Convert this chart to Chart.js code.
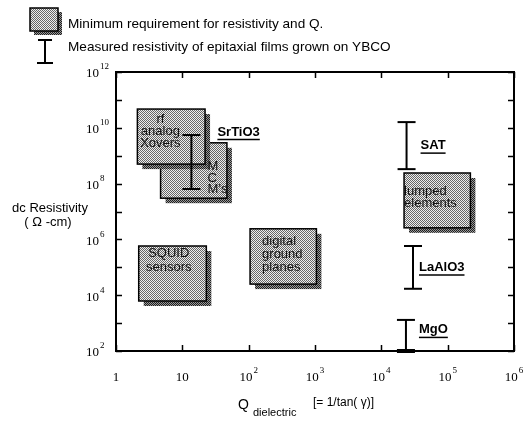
<!DOCTYPE html>
<html>
<head>
<meta charset="utf-8">
<script src="https://cdn.jsdelivr.net/npm/chart.js@4.4.1/dist/chart.umd.min.js"></script>
<style>
  html, body { margin: 0; padding: 0; background: #fff; }
  canvas { display: block; }
</style>
</head>
<body>
<canvas id="chart" width="527" height="421"></canvas>
<script>
// --- datos ---

// cajas: requerimiento minimo (Q y resistividad)
const boxLabels = [["M", "C", "M's"], ["rf", "analog", "Xovers"], ["SQUID", "sensors"], ["digital", "ground", "planes"], ["lumped", "elements"]];
const boxQMin = [4.7, 2.1, 2.2, 105, 2.2e4];
const boxQMax = [47, 22, 23, 1050, 2.2e5];
const boxRhoMin = [3.0e7, 5.0e8, 6.2e3, 2.5e4, 2.6e6];
const boxRhoMax = [2.9e9, 4.7e10, 5.8e5, 2.4e6, 2.4e8];

// barras: resistividad medida en peliculas sobre YBCO
const barLabels = ['SrTiO3', 'SAT', 'LaAlO3', 'MgO'];
const barQ = [13.7, 2.4e4, 3.0e4, 2.35e4];
const barRhoLow = [6.4e7, 3.3e8, 1.7e4, 1e2];
const barRhoHigh = [5.5e9, 1.6e10, 5.8e5, 1.3e3];

// ejes
const xTickValues = [1, 10, 1e2, 1e3, 1e4, 1e5, 1e6];
const xTickLabels = ['1', '10', '10^2', '10^3', '10^4', '10^5', '10^6'];
const yTickValues = [1e2, 1e3, 1e4, 1e5, 1e6, 1e7, 1e8, 1e9, 1e10, 1e11, 1e12];
const yTickLabels = ['10^2', '', '10^4', '', '10^6', '', '10^8', '', '10^10', '', '10^12'];

// --- estilo / posicion de textos (pixeles) ---
const boxTextLayout = [
    { align: 'left', dx: 47, dy: 24, lh: 11.5 },
    { align: 'center', dx: 23, dy: 10, lh: 12 },
    { align: 'center', dx: 30, dy: 7, lh: 14 },
    { align: 'left', dx: 12, dy: 13, lh: 13 },
    { align: 'left', dx: 0, dy: 18, lh: 12.5 }
];
const barTextLayout = [
    { dx: 26, dy: -3, from: 'top' },
    { dx: 14, dy: 0, from: 'mid' },
    { dx: 6, dy: 0, from: 'mid' },
    { dx: 13, dy: 10, from: 'top' }
];

const SANS = '"Liberation Sans", Arial, sans-serif';
const SERIF = '"Liberation Serif", "Times New Roman", serif';

function makeStipple(ctx, dark, light) {
    const c = document.createElement('canvas');
    c.width = c.height = 2;
    const g = c.getContext('2d');
    g.fillStyle = light;
    g.fillRect(0, 0, 2, 2);
    g.fillStyle = dark;
    g.fillRect(0, 0, 1, 1);
    g.fillRect(1, 1, 1, 1);
    return ctx.createPattern(c, 'repeat');
}

function drawShadedBox(ctx, l, t, w, h, off) {
    ctx.fillStyle = makeStipple(ctx, '#1e1e1e', '#9a9a9a');
    ctx.fillRect(l + off, t + off, w, h);
    ctx.fillStyle = makeStipple(ctx, '#666', '#eee');
    ctx.fillRect(l, t, w, h);
    ctx.strokeStyle = '#000';
    ctx.lineWidth = 1.5;
    ctx.strokeRect(l, t, w, h);
}

// "10^4" -> 10 con exponente
function drawPow(ctx, label, x, y, align) {
    const [base, sup] = label.split('^');
    ctx.font = '13px ' + SERIF;
    const wb = ctx.measureText(base).width;
    ctx.font = '9px ' + SERIF;
    const ws = sup ? ctx.measureText(sup).width + 1 : 0;
    const start = align === 'center' ? x - (wb + ws) / 2 : x;
    ctx.textAlign = 'left';
    ctx.textBaseline = 'middle';
    ctx.fillStyle = '#000';
    ctx.font = '13px ' + SERIF;
    ctx.fillText(base, start, y);
    if (sup) {
        ctx.font = '9px ' + SERIF;
        ctx.fillText(sup, start + wb + 1, y - 7);
    }
}

const figurePlugin = {
    id: 'figure',
    beforeDatasetsDraw(chart) {
        const ctx = chart.ctx;
        const xs = chart.scales.x, ys = chart.scales.y;
        const rects = boxLabels.map((_, i) => {
            const l = xs.getPixelForValue(boxQMin[i]);
            const r = xs.getPixelForValue(boxQMax[i]);
            const t = ys.getPixelForValue(boxRhoMax[i]);
            const b = ys.getPixelForValue(boxRhoMin[i]);
            return { l, t, w: r - l, h: b - t };
        });
        ctx.save();
        rects.forEach(r => drawShadedBox(ctx, r.l, r.t, r.w, r.h, 5));
        ctx.font = '13px ' + SANS;
        ctx.fillStyle = '#111';
        ctx.textBaseline = 'middle';
        rects.forEach((r, i) => {
            const lay = boxTextLayout[i];
            ctx.textAlign = lay.align;
            boxLabels[i].forEach((line, k) => {
                ctx.fillText(line, r.l + lay.dx, r.t + lay.dy + k * lay.lh);
            });
        });
        ctx.restore();
    },
    afterDatasetsDraw(chart) {
        const ctx = chart.ctx;
        const xs = chart.scales.x, ys = chart.scales.y;
        const { left, right, top, bottom } = chart.chartArea;
        ctx.save();

        // marco y marcas hacia dentro
        ctx.strokeStyle = '#000';
        ctx.lineWidth = 2;
        ctx.strokeRect(left, top, right - left, bottom - top);
        ctx.lineWidth = 1.5;
        ctx.beginPath();
        yTickValues.forEach(v => {
            const py = Math.round(ys.getPixelForValue(v)) + 0.5;
            ctx.moveTo(left, py); ctx.lineTo(left + 6, py);
            ctx.moveTo(right, py); ctx.lineTo(right - 6, py);
        });
        xTickValues.forEach(v => {
            const px = Math.round(xs.getPixelForValue(v)) + 0.5;
            ctx.moveTo(px, bottom); ctx.lineTo(px, bottom - 6);
            ctx.moveTo(px, top); ctx.lineTo(px, top + 6);
        });
        ctx.stroke();

        // etiquetas de los ejes
        yTickValues.forEach((v, i) => {
            if (yTickLabels[i]) drawPow(ctx, yTickLabels[i], 86, ys.getPixelForValue(v) + 2, 'left');
        });
        xTickValues.forEach((v, i) => {
            drawPow(ctx, xTickLabels[i], xs.getPixelForValue(v), 378, 'center');
        });

        // nombres de los sustratos, en negrita y subrayados
        ctx.font = 'bold 13px ' + SANS;
        ctx.textAlign = 'left';
        ctx.textBaseline = 'middle';
        ctx.fillStyle = '#000';
        barLabels.forEach((name, i) => {
            const lay = barTextLayout[i];
            const px = xs.getPixelForValue(barQ[i]);
            const pTop = ys.getPixelForValue(barRhoHigh[i]);
            const pBot = ys.getPixelForValue(barRhoLow[i]);
            const py = (lay.from === 'top' ? pTop : (pTop + pBot) / 2) + lay.dy;
            const tx = px + lay.dx;
            ctx.fillText(name, tx, py);
            const w = ctx.measureText(name).width;
            ctx.lineWidth = 1.5;
            ctx.beginPath();
            ctx.moveTo(tx, py + 7.5);
            ctx.lineTo(tx + w, py + 7.5);
            ctx.stroke();
        });

        // titulos
        ctx.font = '13px ' + SANS;
        ctx.textAlign = 'center';
        ctx.fillText('dc Resistivity', 50, 208);
        ctx.fillText('( \u03A9 -cm)', 48, 222);
        ctx.textAlign = 'left';
        ctx.font = '14px ' + SANS;
        ctx.fillText('Q', 238, 405);
        ctx.font = '11px ' + SANS;
        ctx.fillText('dielectric', 253, 413);
        ctx.font = '12px ' + SANS;
        ctx.fillText('[= 1/tan( \u03B3)]', 313, 403);

        // leyenda
        drawShadedBox(ctx, 30, 8, 28, 23, 4);
        ctx.fillStyle = '#000';
        ctx.font = '13.6px ' + SANS;
        ctx.textBaseline = 'middle';
        ctx.fillText('Minimum requirement for resistivity and Q.', 68, 24);
        ctx.fillText('Measured resistivity of epitaxial films grown on YBCO', 68, 47);
        ctx.lineWidth = 2;
        ctx.beginPath();
        ctx.moveTo(45, 40); ctx.lineTo(45, 63);
        ctx.moveTo(38, 40); ctx.lineTo(52, 40);
        ctx.moveTo(37, 63); ctx.lineTo(53, 63);
        ctx.stroke();

        ctx.restore();
    }
};

const datasets = barLabels.map((name, i) => ({
    label: name,
    data: [{ x: barQ[i], y: barRhoLow[i] }, { x: barQ[i], y: barRhoHigh[i] }],
    showLine: true,
    borderColor: '#000',
    borderWidth: 2,
    pointStyle: 'line',
    pointRadius: 9,
    // la barra de MgO apoya sobre el eje: tapa inferior mas gruesa
    pointBorderWidth: i === 3 ? [4, 2] : 2,
    pointBorderColor: '#000',
    clip: false
}));

new Chart(document.getElementById('chart'), {
    type: 'scatter',
    data: { datasets },
    options: {
        responsive: false,
        animation: false,
        events: [],
        layout: { padding: { left: 116, right: 10, top: 72, bottom: 70 } },
        scales: {
            x: { type: 'logarithmic', min: 1, max: 1e6, display: false },
            y: { type: 'logarithmic', min: 1e2, max: 1e12, display: false }
        },
        plugins: {
            legend: { display: false },
            tooltip: { enabled: false }
        }
    },
    plugins: [figurePlugin]
});
</script>
</body>
</html>
